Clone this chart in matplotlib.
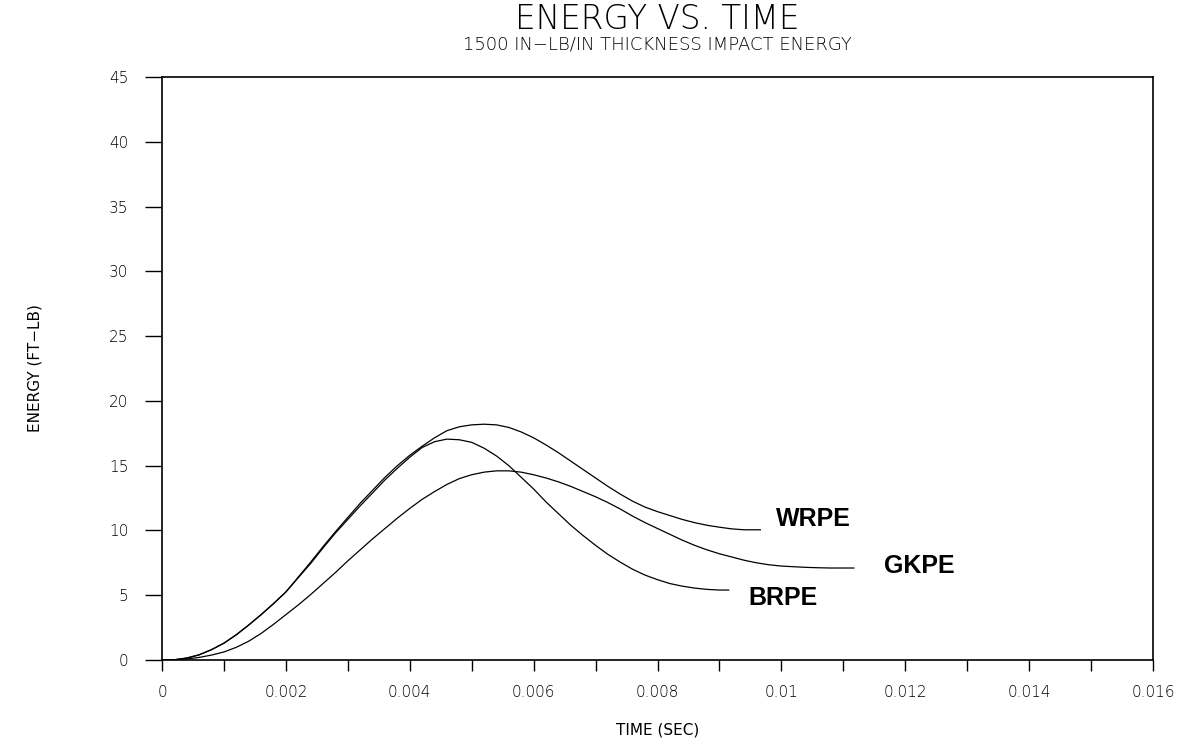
import matplotlib
matplotlib.use("Agg")
import matplotlib.pyplot as plt
from matplotlib.ticker import MultipleLocator

# ---- data ----
wrpe_t = [0, .0002, .0004, .0006, .0008, .0010, .0012, .0014, .0016, .0018, .0020,
          .0022, .0024, .0026, .0028, .0030, .0032, .0034, .0036, .0038, .0040,
          .0042, .0044, .0046, .0048, .0050, .0052, .0054, .0056, .0058, .0060,
          .0062, .0064, .0066, .0068, .0070, .0072, .0074, .0076, .0078, .0080,
          .0082, .0084, .0086, .0088, .0090, .0092, .0094, .00966]
wrpe_e = [0, 0.02, 0.15, 0.4, 0.8, 1.3, 1.95, 2.7, 3.5, 4.35, 5.25,
          6.4, 7.55, 8.75, 9.9, 11.0, 12.1, 13.1, 14.1, 15.0, 15.8,
          16.5, 17.15, 17.7, 18.0, 18.15, 18.2, 18.15, 17.95, 17.6, 17.15,
          16.6, 16.0, 15.35, 14.7, 14.05, 13.4, 12.8, 12.25, 11.8, 11.45,
          11.15, 10.85, 10.6, 10.4, 10.25, 10.12, 10.05, 10.05]

brpe_t = [0, .0002, .0004, .0006, .0008, .0010, .0012, .0014, .0016, .0018, .0020,
          .0022, .0024, .0026, .0028, .0030, .0032, .0034, .0036, .0038, .0040,
          .0042, .0044, .0046, .0048, .0050, .0052, .0054, .0056, .0058, .0060,
          .0062, .0064, .0066, .0068, .0070, .0072, .0074, .0076, .0078, .0080,
          .0082, .0084, .0086, .0088, .0090, .00915]
brpe_e = [0, 0.02, 0.15, 0.4, 0.8, 1.3, 1.95, 2.7, 3.5, 4.35, 5.25,
          6.35, 7.45, 8.65, 9.8, 10.85, 11.9, 12.9, 13.9, 14.8, 15.65,
          16.4, 16.85, 17.05, 17.0, 16.8, 16.35, 15.75, 15.0, 14.1, 13.2,
          12.2, 11.3, 10.4, 9.6, 8.85, 8.15, 7.55, 7.0, 6.55, 6.2,
          5.9, 5.7, 5.55, 5.45, 5.4, 5.4]

gkpe_t = [0, .0002, .0004, .0006, .0008, .0010, .0012, .0014, .0016, .0018, .0020,
          .0022, .0024, .0026, .0028, .0030, .0032, .0034, .0036, .0038, .0040,
          .0042, .0044, .0046, .0048, .0050, .0052, .0054, .0056, .0058, .0060,
          .0062, .0064, .0066, .0068, .0070, .0072, .0074, .0076, .0078, .0080,
          .0082, .0084, .0086, .0088, .0090, .0092, .0094, .0096, .0098, .0100,
          .0102, .0104, .0106, .0108, .0110, .01117]
gkpe_e = [0, 0.01, 0.08, 0.2, 0.38, 0.62, 0.98, 1.45, 2.05, 2.75, 3.5,
          4.25, 5.05, 5.9, 6.75, 7.65, 8.5, 9.35, 10.15, 10.95, 11.7,
          12.4, 13.0, 13.55, 14.0, 14.3, 14.5, 14.6, 14.6, 14.5, 14.3,
          14.05, 13.75, 13.4, 13.0, 12.6, 12.15, 11.65, 11.1, 10.6, 10.15,
          9.7, 9.25, 8.85, 8.5, 8.2, 7.95, 7.7, 7.5, 7.35, 7.25,
          7.2, 7.15, 7.12, 7.1, 7.1, 7.1]

series_names = ["WRPE", "GKPE", "BRPE"]
label_pos = {"WRPE": (0.00992, 10.85), "GKPE": (0.01165, 7.25), "BRPE": (0.00946, 4.8)}

x_ticks = [0, 0.002, 0.004, 0.006, 0.008, 0.01, 0.012, 0.014, 0.016]
x_ticklabels = ["0", "0.002", "0.004", "0.006", "0.008", "0.01", "0.012", "0.014", "0.016"]
y_ticks = [0, 5, 10, 15, 20, 25, 30, 35, 40, 45]

# ---- figure ----
fig = plt.figure(figsize=(11.93, 7.44), dpi=100)
ax = fig.add_axes([162 / 1193, 84 / 744, (1153 - 162) / 1193, (667 - 84) / 744])

for t, e in [(wrpe_t, wrpe_e), (brpe_t, brpe_e), (gkpe_t, gkpe_e)]:
    ax.plot(t, e, color="black", lw=0.9)

for name in series_names:
    x, y = label_pos[name]
    ax.text(x, y, name, fontsize=18, fontweight="bold", family="Liberation Sans",
            va="center", ha="left")

ax.set_xlim(0, 0.016)
ax.set_ylim(0, 45)
ax.set_xticks(x_ticks)
ax.set_xticklabels(x_ticklabels)
ax.xaxis.set_minor_locator(MultipleLocator(0.001))
ax.set_yticks(y_ticks)

for lab in ax.get_xticklabels() + ax.get_yticklabels():
    lab.set_fontfamily("DejaVu Sans")
    lab.set_fontsize(11)
    lab.set_fontweight("light")

ax.tick_params(axis="x", which="both", direction="out", length=8, width=1,
               top=False, pad=10, colors="black")
ax.tick_params(axis="y", which="both", direction="out", length=12, width=1,
               right=False, pad=12, colors="black")
for s in ax.spines.values():
    s.set_linewidth(1.2)
    s.set_color("black")

ax.set_xlabel("TIME (SEC)", fontsize=11, family="DejaVu Sans", labelpad=16)
ax.set_ylabel("ENERGY (FT\u2212LB)", fontsize=11, family="DejaVu Sans", labelpad=48)

fig.text(0.551, 0.974, "ENERGY VS. TIME", ha="center", va="center",
         fontsize=23.5, family="DejaVu Sans", fontweight="light")
fig.text(0.551, 0.940, "1500 IN\u2212LB/IN THICKNESS IMPACT ENERGY", ha="center",
         va="center", fontsize=13, family="DejaVu Sans", fontweight="light")

fig.savefig("out.png", dpi=100, facecolor="white")
